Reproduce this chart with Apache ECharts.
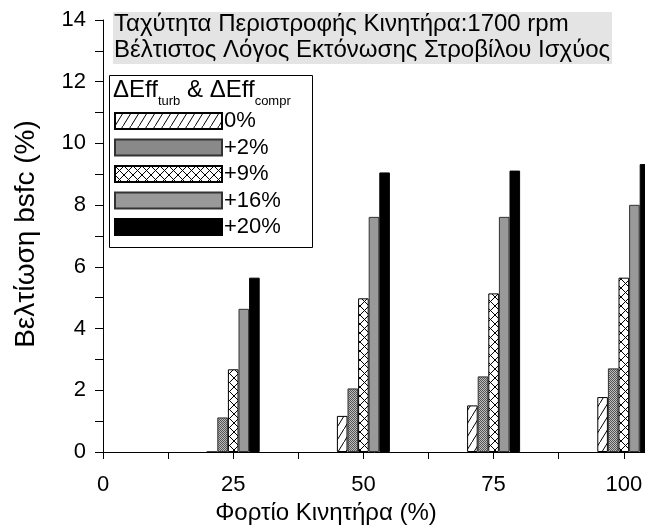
<!DOCTYPE html>
<html>
<head>
<meta charset="utf-8">
<script src="https://cdn.jsdelivr.net/npm/echarts@6/dist/echarts.min.js"></script>
<style>
html,body{margin:0;padding:0;background:#fff;}
#chart{width:645px;height:526px;}
</style>
</head>
<body>
<div id="chart"></div>
<script>
// data
var loads = [25, 50, 75, 100];
var seriesNames = ['0%', '+2%', '+9%', '+16%', '+20%'];
var eff0 = [0, 1.17, 1.51, 1.78];
var eff2 = [1.12, 2.06, 2.45, 2.71];
var eff9 = [2.68, 4.98, 5.14, 5.65];
var eff16 = [4.64, 7.62, 7.62, 8.01];
var eff20 = [5.65, 9.06, 9.12, 9.33];
var xTicks = [0, 25, 50, 75, 100];
var yTicks = [0, 2, 4, 6, 8, 10, 12, 14];

var FONT = '"Liberation Sans", Arial, sans-serif';

// fill patterns (hatch, stipple, cross)
function pattern(kind) {
	var c = document.createElement('canvas');
	var w = 9, h = 9;
	if (kind == 'dots') { w = 2; h = 2; }
	if (kind == 'hatch') { w = 8; h = 13; }
	c.width = w; c.height = h;
	var g = c.getContext('2d');
	g.fillStyle = '#fff';
	g.fillRect(0, 0, w, h);
	if (kind == 'dots') {
		g.fillStyle = '#555';
		g.fillRect(0, 0, 1, 1); g.fillRect(1, 1, 1, 1);
		g.fillStyle = '#bdbdbd';
		g.fillRect(1, 0, 1, 1); g.fillRect(0, 1, 1, 1);
		return {image: c, repeat: 'repeat'};
	}
	g.strokeStyle = '#000';
	g.lineWidth = 1;
	g.beginPath();
	g.moveTo(0, h); g.lineTo(w, 0);
	if (kind == 'cross') { g.moveTo(0, 0); g.lineTo(w, h); }
	g.stroke();
	return {image: c, repeat: 'repeat'};
}

var fills = [pattern('hatch'), pattern('dots'), pattern('cross'), '#999999', '#000000'];
var borders = ['#000', '#333', '#000', '#333', '#000'];
var values = [eff0, eff2, eff9, eff16, eff20];

var series = [];
for (var i = 0; i < seriesNames.length; i++) {
	series.push({
		name: seriesNames[i],
		type: 'bar',
		barWidth: 10.6,
		barGap: '0%',
		itemStyle: {color: fills[i], borderColor: borders[i], borderWidth: 1},
		emphasis: {disabled: true},
		data: loads.map(function (x, k) { return [x, values[i][k]]; })
	});
}

// legend heading with subscripts, laid out by measuring the text
var ctx = document.createElement('canvas').getContext('2d');
function textW(str, size) {
	ctx.font = size + 'px ' + FONT;
	return ctx.measureText(str).width;
}
var headParts = [['ΔEff', 24, 0], ['turb', 13, 1], [' & ΔEff', 24, 0], ['compr', 13, 1]];
var headEls = [];
var hx = 113;
headParts.forEach(function (p) {
	headEls.push({
		type: 'text', z: 3, x: hx, y: p[2] ? 101 : 90,
		style: {text: p[0], font: p[1] + 'px ' + FONT, fill: '#000', verticalAlign: 'middle'}
	});
	hx += textW(p[0], p[1]);
});

var myChart = echarts.init(document.getElementById('chart'), null, {renderer: 'canvas'});
var option = {
	animation: false,
	backgroundColor: '#fff',
	grid: {left: 103, top: 20, width: 651, height: 432, containLabel: false, outerBoundsMode: 'none'},
	xAxis: {
		type: 'value', min: 0, max: 125, interval: 12.5,
		axisLine: {show: true, onZero: false, lineStyle: {color: '#000', width: 1}},
		axisTick: {show: true, length: 7, lineStyle: {color: '#000'}},
		axisLabel: {
			margin: 22, fontSize: 22, color: '#000', fontFamily: FONT,
			formatter: function (v) { return xTicks.indexOf(v) >= 0 ? String(v) : ''; }
		},
		splitLine: {show: false}
	},
	yAxis: {
		type: 'value', min: 0, max: 14, interval: 1,
		axisLine: {show: true, lineStyle: {color: '#000', width: 1}},
		axisTick: {show: true, length: 8, lineStyle: {color: '#000'}},
		axisLabel: {
			margin: 17, fontSize: 22, color: '#000', fontFamily: FONT,
			formatter: function (v) { return yTicks.indexOf(v) >= 0 ? String(v) : ''; }
		},
		splitLine: {show: false}
	},
	legend: {
		data: seriesNames,
		orient: 'vertical',
		left: 114, top: 110,
		padding: 0,
		itemWidth: 107, itemHeight: 16, itemGap: 4.5,
		icon: 'rect',
		selectedMode: false,
		textStyle: {fontSize: 22, color: '#000', fontFamily: FONT, padding: [0, 0, 0, -3]}
	},
	graphic: [
		{type: 'rect', z: 3, shape: {x: 113, y: 12, width: 499, height: 52}, style: {fill: '#e4e4e4'}},
		{type: 'text', z: 3, x: 114, y: 24, style: {text: 'Ταχύτητα Περιστροφής Κινητήρα:1700 rpm', font: '24px ' + FONT, fill: '#000', verticalAlign: 'middle'}},
		{type: 'text', z: 3, x: 114, y: 50, style: {text: 'Βέλτιστος Λόγος Εκτόνωσης Στροβίλου Ισχύος', font: '24px ' + FONT, fill: '#000', verticalAlign: 'middle'}},
		{type: 'rect', z: 3, shape: {x: 109.5, y: 75.5, width: 203, height: 172}, style: {fill: '#fff', stroke: '#000', lineWidth: 1}},
		{type: 'text', z: 3, x: 26, y: 234, rotation: Math.PI / 2, style: {text: 'Βελτίωση bsfc (%)', font: '28px ' + FONT, fill: '#000', align: 'center', verticalAlign: 'middle'}},
		{type: 'text', z: 3, x: 326, y: 513, style: {text: 'Φορτίο Κινητήρα (%)', font: '24px ' + FONT, fill: '#000', align: 'center', verticalAlign: 'middle'}}
	].concat(headEls),
	series: series
};

// 使用刚指定的配置项和数据显示图表。
myChart.setOption(option);
</script>
</body>
</html>
